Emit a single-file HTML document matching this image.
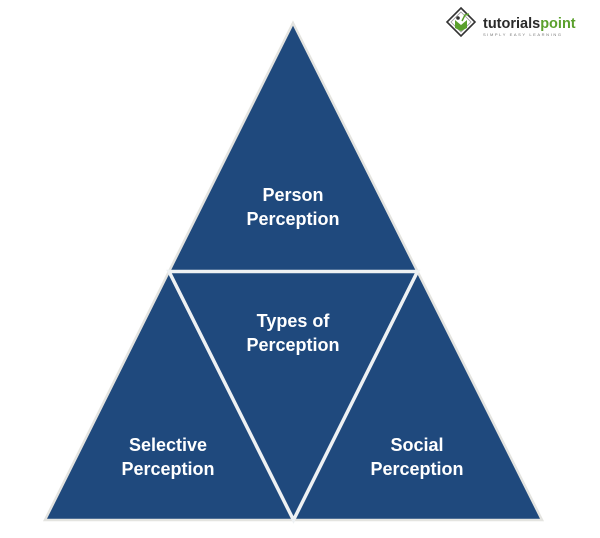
<!DOCTYPE html>
<html>
<head>
<meta charset="utf-8">
<style>
  html,body{margin:0;padding:0;background:#ffffff;}
  body{width:600px;height:538px;overflow:hidden;}
  svg{display:block;}
</style>
</head>
<body>
<svg width="600" height="538" viewBox="0 0 600 538" xmlns="http://www.w3.org/2000/svg">
  <rect width="600" height="538" fill="#ffffff"/>
  <!-- outer triangle -->
  <polygon points="293,23 45,520 542,520" fill="#1f497d" stroke="#e4e4e0" stroke-width="2.5" stroke-linejoin="miter"/>
  <!-- inner dividing triangle -->
  <polygon points="169,271.5 417.5,271.5 293.5,520" fill="none" stroke="#eef1f3" stroke-width="3.5" stroke-linejoin="miter"/>

  <g font-family="'Liberation Sans', Arial, sans-serif" font-weight="bold" font-size="18" fill="#ffffff" text-anchor="middle">
    <text x="293" y="201">Person</text>
    <text x="293" y="225">Perception</text>
    <text x="293" y="327">Types of</text>
    <text x="293" y="351">Perception</text>
    <text x="168" y="451">Selective</text>
    <text x="168" y="475">Perception</text>
    <text x="417" y="451">Social</text>
    <text x="417" y="475">Perception</text>
  </g>

  <!-- logo -->
  <g>
    <polygon points="461,8 475,22 461,36 447,22" fill="#ffffff" stroke="#333333" stroke-width="1.6"/>
    <polygon points="461,12 471,22 461,32 451,22" fill="#ffffff" stroke="#999999" stroke-width="0.8"/>
    <path d="M455,20 L461,25 L467,20 L467,28 L461,31 L455,28 Z" fill="#5aa02c"/>
    <circle cx="458" cy="18" r="1.8" fill="#333333"/>
    <path d="M462,21 L465,15 L469,14" fill="none" stroke="#5aa02c" stroke-width="1.5"/>
    <text x="483" y="28" font-family="'Liberation Sans', Arial, sans-serif" font-weight="bold" font-size="14.5" fill="#2b2b2b">tutorials<tspan fill="#5aa02c">point</tspan></text>
    <text x="483" y="36" font-family="'Liberation Sans', Arial, sans-serif" font-size="4" letter-spacing="1.6" fill="#777777">SIMPLY EASY LEARNING</text>
  </g>
</svg>
</body>
</html>
